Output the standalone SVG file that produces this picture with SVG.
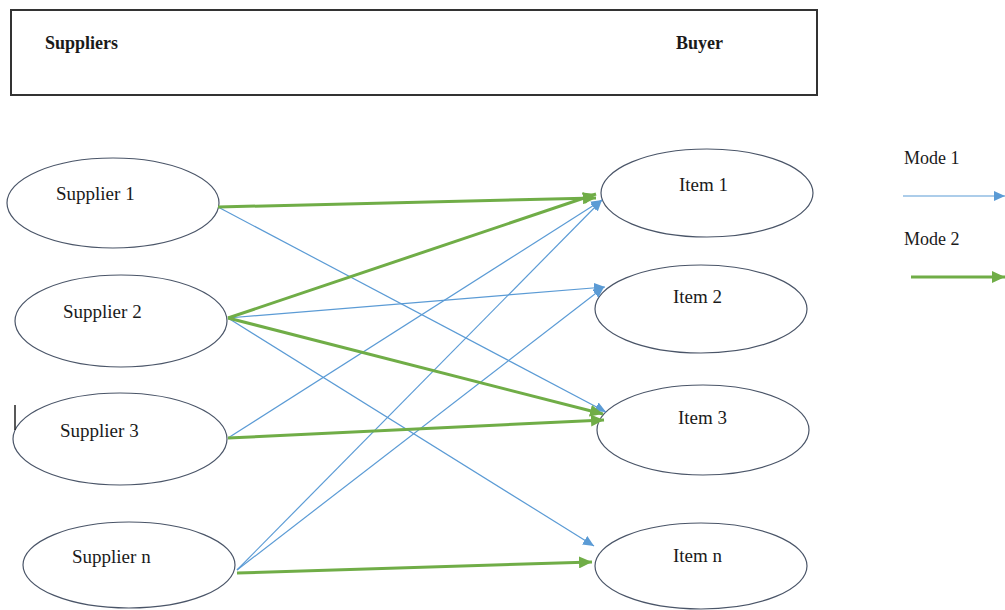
<svg xmlns="http://www.w3.org/2000/svg" width="1005" height="610" viewBox="0 0 1005 610">
<style>
  .node { fill: #ffffff; stroke: #4a5568; stroke-width: 1.2; }
  .lbl { font-family: "Liberation Serif", "Times New Roman", serif; font-size: 19px; fill: #1a1a1a; }
  .hdr { font-family: "Liberation Serif", "Times New Roman", serif; font-size: 18px; font-weight: bold; fill: #1a1a1a; }
  .leg { font-family: "Liberation Serif", "Times New Roman", serif; font-size: 18px; fill: #1a1a1a; }
  .m1 { stroke: #5B9BD5; stroke-width: 1.2; fill: none; marker-end: url(#ab); }
  .m2 { stroke: #70AD47; stroke-width: 3; fill: none; marker-end: url(#ag); }
</style>
<defs>
  <marker id="ab" markerUnits="userSpaceOnUse" markerWidth="12" markerHeight="10" refX="11" refY="5" orient="auto">
    <path d="M0,0 L11,5 L0,10 Z" fill="#5B9BD5"/>
  </marker>
  <marker id="ag" markerUnits="userSpaceOnUse" markerWidth="14" markerHeight="12" refX="13" refY="6" orient="auto">
    <path d="M0,0 L13,6 L0,12 Z" fill="#70AD47"/>
  </marker>
</defs>
<rect width="1005" height="610" fill="#ffffff"/>

<g id="header">
  <rect x="11" y="10" width="806" height="85" fill="#ffffff" stroke="#333333" stroke-width="2"/>
  <text class="hdr" x="45" y="49">Suppliers</text>
  <text class="hdr" x="676" y="49">Buyer</text>
</g>

<g id="supplier-1"><ellipse class="node" cx="113" cy="203" rx="106" ry="45"/><text class="lbl" x="56" y="200">Supplier 1</text></g>
<g id="supplier-2"><ellipse class="node" cx="121" cy="321" rx="106" ry="46"/><text class="lbl" x="63" y="318">Supplier 2</text></g>
<g id="supplier-3"><ellipse class="node" cx="120" cy="439" rx="107" ry="46"/><text class="lbl" x="60" y="437">Supplier 3</text></g>
<g id="supplier-n"><ellipse class="node" cx="129" cy="565" rx="106" ry="43"/><text class="lbl" x="72" y="563">Supplier n</text></g>

<g id="item-1"><ellipse class="node" cx="707" cy="193" rx="106" ry="44"/><text class="lbl" x="679" y="191">Item 1</text></g>
<g id="item-2"><ellipse class="node" cx="701" cy="309" rx="106" ry="44"/><text class="lbl" x="673" y="303">Item 2</text></g>
<g id="item-3"><ellipse class="node" cx="703" cy="430" rx="106" ry="45"/><text class="lbl" x="678" y="424">Item 3</text></g>
<g id="item-n"><ellipse class="node" cx="701" cy="566" rx="106" ry="43"/><text class="lbl" x="673" y="562">Item n</text></g>

<line x1="15" y1="405" x2="15" y2="430" stroke="#222222" stroke-width="1.5"/>

<g id="connectors">
  <line class="m1" x1="218" y1="207" x2="606" y2="412"/>
  <line class="m1" x1="228" y1="318" x2="605" y2="287"/>
  <line class="m1" x1="228" y1="318" x2="594" y2="546"/>
  <line class="m1" x1="228" y1="438" x2="602" y2="200"/>
  <line class="m1" x1="237" y1="570" x2="602" y2="200"/>
  <line class="m1" x1="237" y1="570" x2="604" y2="287"/>
  <line class="m2" x1="218" y1="207" x2="596" y2="198"/>
  <line class="m2" x1="228" y1="318" x2="596" y2="194"/>
  <line class="m2" x1="228" y1="318" x2="603" y2="414"/>
  <line class="m2" x1="228" y1="438" x2="604" y2="420"/>
  <line class="m2" x1="237" y1="573" x2="592" y2="562"/>
</g>

<g id="legend">
  <text class="leg" x="904" y="164">Mode 1</text>
  <line class="m1" x1="903" y1="196" x2="1005" y2="196"/>
  <text class="leg" x="904" y="245">Mode 2</text>
  <line class="m2" x1="911" y1="277" x2="1005" y2="277"/>
</g>
</svg>
